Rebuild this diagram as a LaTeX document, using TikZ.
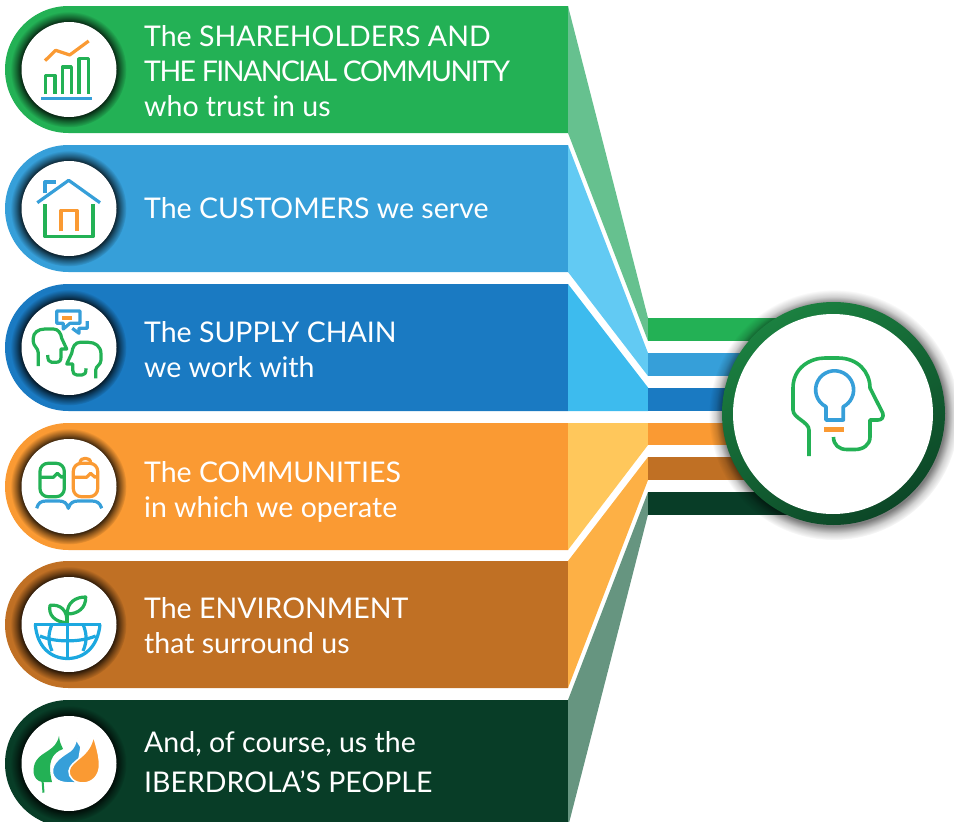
\documentclass[tikz,border=0pt]{standalone}
\usepackage{fontspec}
\setmainfont{Lato}
\usetikzlibrary{calc}
\usetikzlibrary{fadings}
\usetikzlibrary{positioning}

\definecolor{shareGreen}{HTML}{23B155}
\definecolor{shareLight}{HTML}{66C18F}
\definecolor{custBlue}{HTML}{369FD9}
\definecolor{custLight}{HTML}{62CAF3}
\definecolor{supplyBlue}{HTML}{1A7AC2}
\definecolor{supplyLight}{HTML}{3DBBEE}
\definecolor{commOrange}{HTML}{FA9A33}
\definecolor{commLight}{HTML}{FFC75B}
\definecolor{envBrown}{HTML}{C07024}
\definecolor{envLight}{HTML}{FDB045}
\definecolor{peopleGreen}{HTML}{083D27}
\definecolor{peopleLight}{HTML}{669580}
\definecolor{globeBlue}{HTML}{1CA8E0}
\definecolor{hubLight}{HTML}{1B8040}
\definecolor{hubDark}{HTML}{0C4727}

\pgfdeclareradialshading{glowshade}{\pgfpointorigin}{color(0bp)=(pgftransparent!0); color(20.4bp)=(pgftransparent!22); color(22.5bp)=(pgftransparent!60); color(25bp)=(pgftransparent!100); color(50bp)=(pgftransparent!100)}
\pgfdeclarefading{glowfade}{\pgfuseshading{glowshade}}
\pgfdeclareradialshading{hubshade}{\pgfpointorigin}{color(0bp)=(pgftransparent!0); color(22.2bp)=(pgftransparent!50); color(23.6bp)=(pgftransparent!82); color(25bp)=(pgftransparent!100); color(50bp)=(pgftransparent!100)}
\pgfdeclarefading{hubfade}{\pgfuseshading{hubshade}}

\tikzset{
  iconcircle/.style={circle, fill=white, inner sep=0pt, minimum size=95pt},
  bartext/.style={anchor=west, inner sep=0pt, align=left, text=white, font=\fontsize{28.5}{35}\selectfont},
  glowdisc/.style={fill=black, path fading=glowfade},
  iconline/.style={line width=3.2pt, line join=round}
}

\begin{document}
\begin{tikzpicture}[x=1pt, y=-1pt]
\useasboundingbox (0,0) rectangle (954,822);
\clip (0,0) rectangle (954,822);

% bars
\fill[shareGreen] (568,6) -- (68.5,6) arc[start angle=270, end angle=90, radius=63.5] -- (568,133) -- cycle;
\fill[custBlue] (568,145) -- (68.5,145) arc[start angle=270, end angle=90, radius=63.5] -- (568,272) -- cycle;
\fill[supplyBlue] (568,284) -- (68.5,284) arc[start angle=270, end angle=90, radius=63.5] -- (568,411) -- cycle;
\fill[commOrange] (568,423) -- (68.5,423) arc[start angle=270, end angle=90, radius=63.5] -- (568,550) -- cycle;
\fill[envBrown] (568,561) -- (68.5,561) arc[start angle=270, end angle=90, radius=63.5] -- (568,688) -- cycle;
\fill[peopleGreen] (568,700) -- (68.5,700) arc[start angle=270, end angle=90, radius=63.5] -- (568,827) -- cycle;

% funnels
\fill[shareLight] (568,6) -- (648,318) -- (648,341) -- (568,133) -- cycle;
\fill[custLight] (568,145) -- (648,353) -- (648,376) -- (568,272) -- cycle;
\fill[supplyLight] (568,284) -- (648,387.5) -- (648,411) -- (568,411) -- cycle;
\fill[commLight] (568,423) -- (648,423) -- (648,445) -- (568,550) -- cycle;
\fill[envLight] (568,561) -- (648,457) -- (648,480) -- (568,688) -- cycle;
\fill[peopleLight] (568,700) -- (648,492) -- (648,514.5) -- (568,827) -- cycle;

% strips into the hub
\fill[shareGreen] (648,318) rectangle (800,341);
\fill[custBlue] (648,353) rectangle (800,376);
\fill[supplyBlue] (648,387.5) rectangle (800,411);
\fill[commOrange] (648,423) rectangle (800,445);
\fill[envBrown] (648,457) rectangle (800,480);
\fill[peopleGreen] (648,492) rectangle (800,514.5);

% hub
\coordinate (hubc) at (834,415);
\fill[fill=black, path fading=hubfade] (hubc) circle (125);
\shade[left color=hubLight, right color=hubDark, shading angle=30] (833.5,413.5) circle (111.5);
\draw (833,414) node[circle, fill=white, inner sep=0pt, minimum size=200pt, name=hub]{};

% icon discs
\fill[glowdisc] (68.5,69.5) circle (58);
\draw (69,69.5) node[iconcircle, name=c0]{};
\fill[glowdisc] (68.5,208.5) circle (58);
\draw (c0) + (0,139) node[iconcircle, name=c1]{};
\fill[glowdisc] (68.5,347.5) circle (58);
\draw (c1) + (0,139) node[iconcircle, name=c2]{};
\fill[glowdisc] (68.5,486.5) circle (58);
\draw (c2) + (0,139) node[iconcircle, name=c3]{};
\fill[glowdisc] (68.5,624.5) circle (58);
\draw (c3) + (0,138) node[iconcircle, name=c4]{};
\fill[glowdisc] (68.5,763.5) circle (58);
\draw (c4) + (0,139) node[iconcircle, name=c5]{};

% labels
\node[bartext, name=t0] at (144,71) {The SHAREHOLDERS AND\\{\addfontfeature{LetterSpace=-5.5}THE FINANCIAL COMMUNITY}\\who trust in us};
\node[bartext, name=t1] at (144,208) {The CUSTOMERS we serve};
\node[bartext, name=t2] at (144,349.5) {The SUPPLY CHAIN\\we work with};
\node[bartext, name=t3] at (144,492) {The COMMUNITIES\\in which we operate};
\node[bartext, name=t4] at (144,626) {The ENVIRONMENT\\that surround us};
\node[bartext, name=t5] at (144,762.5) {And, of course, us the\\[5pt]IBERDROLA’S PEOPLE};

% chart icon
\draw[iconline, commOrange] (45,60.7) -- (55.7,50.3) -- (69.7,55) -- (88.7,41);
\draw[iconline, shareGreen] (45.3,94) -- (45.3,75.3) -- (55,75.3) -- (55,94);
\draw[iconline, shareGreen] (62.3,94) -- (62.3,67) -- (71.3,67) -- (71.3,94);
\draw[iconline, shareGreen] (79,94) -- (79,58.7) -- (88.3,58.7) -- (88.3,94);
\draw[line width=3.2pt, custBlue] (41,98.3) -- (92,98.3);

% house icon
\draw[iconline, custBlue] (37.3,202.7) -- (68.7,180.3) -- (100,202.7);
\draw[iconline, custBlue] (45,193.3) -- (45,182) -- (56,182);
\draw[iconline, shareGreen] (45,204) -- (45,236.7) -- (93,236.7) -- (93,204);
\draw[iconline, commOrange] (61,231) -- (61,210.3) -- (77,210.3) -- (77,231);

% talking heads icon
\draw[iconline, custBlue] (56.7,311) -- (80,311) -- (80,323.3) -- (70,323.3) -- (63.3,329) -- (63.3,323.3) -- (56.7,323.3) -- cycle;
\fill[commOrange] (62.3,316) rectangle (71.7,319.7);
\draw[iconline, custBlue] (87.3,321) -- (87.3,328.3) -- (79,328.3) -- (79,333.3) -- (72.3,328.3);
\draw[iconline, shareGreen] (38.3,366) -- (38.3,353) .. controls (38.3,348) and (33.3,346) .. (33.3,341.7) -- (33.3,338) .. controls (33.3,333) and (38,329) .. (45,329) -- (53.3,329) .. controls (58,329) and (61,333) .. (61.7,338.3) -- (66.7,349) -- (61,349) -- (61,356.7) .. controls (61,360) and (60,362.3) .. (56,362.3) -- (51.7,362.3) .. controls (49,362.3) and (47.7,360) .. (47.7,355);
\draw[iconline, shareGreen] (95.7,378.3) -- (95.7,370) .. controls (95.7,366) and (101,365) .. (101,360) -- (101,354) .. controls (101,346) and (95,342.3) .. (88.3,342.3) -- (80,342.3) .. controls (75,342.3) and (72.5,347) .. (71.7,353.3) -- (66.7,364) -- (72.7,364) -- (72.7,370) .. controls (72.7,373) and (74,375) .. (77,375) -- (82,375) .. controls (85,375) and (86,373) .. (86,368.3);

% community icon
\draw[iconline, shareGreen, rounded corners=8pt] (40,463.3) rectangle (64.3,496.7);
\draw[iconline, shareGreen] (40,477.3) -- (53.3,477.3) -- (57.3,473.3) -- (61.7,477.3) -- (64.3,475.7);
\draw[iconline, commOrange, rounded corners=8pt] (73.3,463.3) rectangle (97.7,496.7);
\draw[iconline, commOrange] (73.3,477.3) -- (86.6,477.3) -- (90.6,473.3) -- (95,477.3) -- (97.7,475.7);
\draw[iconline, commOrange] (80,463.3) .. controls (80,459.5) and (82.5,458.3) .. (85.3,458.3) .. controls (88,458.3) and (90.7,459.5) .. (90.7,463.3);
\draw[iconline, custBlue] (36.7,508.3) .. controls (38,503) and (41,501) .. (46,501) -- (59,501) .. controls (64,501) and (67,503) .. (68.3,508.3) .. controls (70,503) and (73,501) .. (78,501) -- (92,501) .. controls (97,501) and (100,503) .. (101.7,508.3);

% globe icon
\draw[iconline, shareGreen] (67.3,623) -- (67.3,614);
\draw[iconline, shareGreen] (66.7,622.7) .. controls (55,622) and (48,615) .. (50,605.3) .. controls (60,604) and (68,610) .. (66.7,622.7);
\draw[iconline, shareGreen] (67.3,614) .. controls (67,602) and (76,597) .. (85.7,597) .. controls (86,608) and (78,614) .. (67.3,614);
\draw[iconline, globeBlue] (34.3,624.5) -- (101,624.5);
\draw[iconline, globeBlue] (35.3,624.5) .. controls (37,646) and (50,658.5) .. (67.5,658.5) .. controls (85,658.5) and (98,646) .. (100,624.5);
\draw[iconline, globeBlue] (67.3,624.5) -- (67.3,658.5);
\draw[iconline, globeBlue] (40,636) .. controls (55,642.5) and (80,642.5) .. (95.7,636);
\draw[iconline, globeBlue] (51.7,625) .. controls (49,632) and (47,640) .. (52,651);
\draw[iconline, globeBlue] (83.3,625) .. controls (86,632) and (88,640) .. (83,651);

% leaves icon
\fill[shareGreen] (59,736) .. controls (59.5,743) and (62,746) .. (63,749) .. controls (52,753) and (47,762) .. (52,782) -- (42,782) .. controls (32,780) and (32,768) .. (36,761) .. controls (42,751) and (56,751) .. (59,736) -- cycle;
\draw[line width=2pt, shareGreen] (42.5,780) -- (43.5,792.7);
\filldraw[fill=custBlue, draw=white, line width=1.5pt] (76.7,736.7) .. controls (77,742) and (79,744) .. (81,747) -- (75,783) .. controls (65,783) and (55,783) .. (52.5,773) .. controls (51,762) and (64,755) .. (70,751) .. controls (74,748) and (76,743) .. (76.7,736.7) -- cycle;
\filldraw[fill=commOrange, draw=white, line width=1.5pt] (93.3,735) .. controls (96,745) and (99.5,755) .. (99.5,765) .. controls (99.5,776) and (92,783) .. (83,783) .. controls (74,783) and (68.5,777) .. (69,771) .. controls (70,760) and (91,757) .. (93.3,735) -- cycle;

% hub icon
\draw[line width=3.6pt, shareGreen, line join=round] (809,456) -- (809,430) .. controls (809,422) and (793,418) .. (793,410) -- (793,388) .. controls (793,368) and (810,358) .. (825,358) -- (838,358) .. controls (858,358) and (870,372) .. (870,388) -- (882.7,413) .. controls (884,417) and (882,420) .. (878,420) -- (870,420) -- (870,437) .. controls (870,445) and (863,449.5) .. (855,449.5) -- (847,449.5) .. controls (839,449.5) and (833.5,445) .. (833.5,437);
\draw[line width=3.6pt, custBlue, line join=round] (826,420) -- (826,406.7) arc[start angle=117, end angle=423, radius=19] -- (843.3,420) -- cycle;
\draw[line width=5pt, commOrange] (824,429.5) -- (844,429.5);
\end{tikzpicture}
\end{document}
